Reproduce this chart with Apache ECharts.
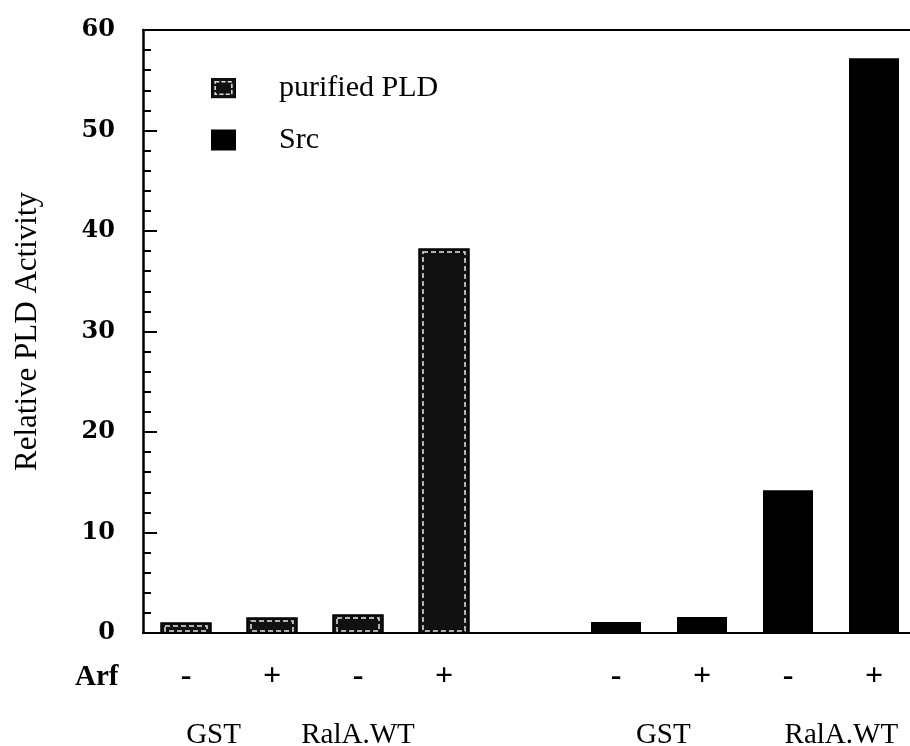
<!DOCTYPE html>
<html>
<head>
<meta charset="utf-8">
<script src="https://cdn.jsdelivr.net/npm/echarts@6/dist/echarts.min.js"></script>
<style>
  html, body { margin: 0; padding: 0; background: #fff; }
  #chart { width: 910px; height: 746px; }
</style>
</head>
<body>
<div id="chart"></div>
<script>
// Arf treatment per lane; the empty slot separates the two sample groups
const arfLabels = ['-', '+', '-', '+', '', '-', '+', '-', '+'];
// Group names shown under each pair of lanes, with the lane position they sit at
const groupLabels = ['GST', 'RalA.WT', 'GST', 'RalA.WT'];
const groupPositions = [0.32, 2.0, 5.55, 7.62];
// Relative PLD activity, purified PLD (lanes 0-3)
const purifiedPLD = [1.0, 1.5, 1.8, 38.2];
// Relative PLD activity, Src (lanes 5-8)
const srcValues = [null, null, null, null, null, 1.1, 1.6, 14.2, 57.2];
const yTicks = [0, 10, 20, 30, 40, 50, 60];

const serif = 'Liberation Serif';
const numFont = 'DejaVu Serif';

const pldIconSvg =
  '<svg xmlns="http://www.w3.org/2000/svg" width="24" height="20">' +
  '<rect x="0.5" y="0.5" width="23" height="19" fill="#111" stroke="#000"/>' +
  '<rect x="4" y="4" width="16" height="12" fill="none" stroke="#ddd" stroke-width="1.5" stroke-dasharray="4,2"/>' +
  '</svg>';
const pldIcon = 'image://data:image/svg+xml;charset=utf-8,' + encodeURIComponent(pldIconSvg);

const chart = echarts.init(document.getElementById('chart'), null, { renderer: 'canvas' });

chart.setOption({
  backgroundColor: '#fff',
  animation: false,
  grid: { left: 143, right: -7, top: 30, bottom: 113, containLabel: false, outerBoundsMode: 'none' },
  legend: {
    orient: 'vertical',
    left: 206,
    top: 68,
    itemWidth: 25,
    itemHeight: 21,
    itemGap: 22,
    textStyle: { fontFamily: serif, fontSize: 30, color: '#000', padding: [0, 0, 0, 38] },
    data: [
      { name: 'purified PLD', icon: pldIcon },
      { name: 'Src', icon: 'rect', itemStyle: { color: '#000' } }
    ]
  },
  xAxis: [
    {
      type: 'category',
      data: arfLabels,
      position: 'bottom',
      axisLine: { show: true, onZero: false, lineStyle: { color: '#000', width: 2 } },
      axisTick: { show: false },
      axisLabel: { margin: 28, fontFamily: serif, fontSize: 32, fontWeight: 'bold', color: '#000' }
    },
    {
      type: 'value',
      min: -0.5,
      max: 8.5,
      position: 'bottom',
      offset: 70,
      axisLine: { show: false, onZero: false },
      axisTick: { show: false },
      splitLine: { show: false },
      axisLabel: {
        margin: 18,
        customValues: groupPositions,
        fontFamily: serif,
        fontSize: 29,
        color: '#000',
        formatter: function (v) {
          const k = groupPositions.findIndex(p => Math.abs(p - v) < 1e-6);
          return k >= 0 ? groupLabels[k] : '';
        }
      }
    },
    {
      type: 'category',
      data: arfLabels,
      position: 'top',
      axisLine: { show: true, onZero: false, lineStyle: { color: '#000', width: 2 } },
      axisTick: { show: false },
      axisLabel: { show: false }
    }
  ],
  yAxis: {
    type: 'value',
    min: 0,
    max: 60,
    interval: 10,
    name: 'Relative PLD Activity',
    nameLocation: 'middle',
    nameRotate: 90,
    nameGap: 100,
    nameTextStyle: { fontFamily: serif, fontSize: 31, color: '#000' },
    axisLine: { show: true, onZero: false, lineStyle: { color: '#000', width: 2.5 } },
    axisTick: { show: true, inside: true, length: 14, lineStyle: { color: '#000', width: 2 } },
    minorTick: { show: true, splitNumber: 5, length: 8, lineStyle: { color: '#000', width: 2 } },
    splitLine: { show: false },
    axisLabel: {
      margin: 28,
      fontFamily: numFont,
      fontSize: 24,
      fontWeight: 'bold',
      color: '#000',
      customValues: yTicks
    }
  },
  series: [
    {
      name: 'purified PLD',
      type: 'custom',
      xAxisIndex: 0,
      itemStyle: { color: '#111' },
      data: purifiedPLD.map((v, i) => [i, v]),
      renderItem: function (params, api) {
        const i = api.value(0);
        const v = api.value(1);
        const top = api.coord([i, v]);
        const base = api.coord([i, 0]);
        const w = 50;
        const x = top[0] - w / 2;
        const h = base[1] - top[1];
        return {
          type: 'group',
          children: [
            { type: 'rect', shape: { x: x, y: top[1], width: w, height: h },
              style: { fill: '#111', stroke: '#000', lineWidth: 1.5 } },
            { type: 'rect', shape: { x: x + 4, y: top[1] + 3, width: w - 8, height: Math.max(h - 5, 1) },
              style: { fill: 'none', stroke: '#e6e6e6', lineWidth: 1.5, lineDash: [5, 3] } }
          ]
        };
      }
    },
    {
      name: 'Src',
      type: 'bar',
      xAxisIndex: 0,
      barWidth: 50,
      itemStyle: { color: '#000' },
      data: srcValues
    }
  ],
  graphic: [
    {
      type: 'text',
      left: 75,
      top: 663,
      style: { text: 'Arf', fontFamily: serif, fontSize: 29, fontWeight: 'bold', fill: '#000' }
    }
  ]
});
</script>
</body>
</html>
